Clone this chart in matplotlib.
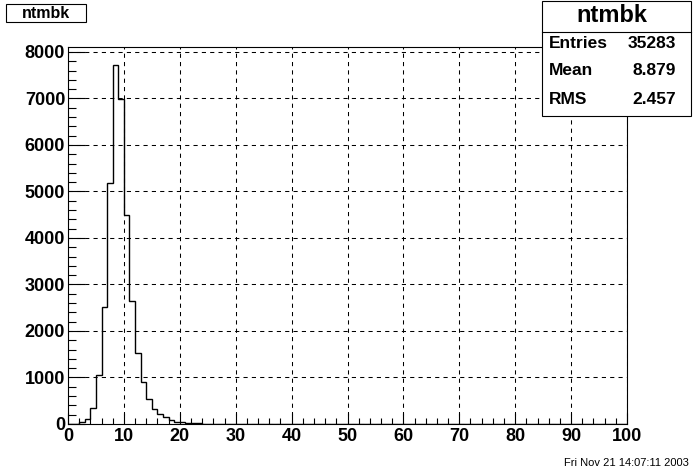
import numpy as np
import matplotlib
matplotlib.use('Agg')
import matplotlib.pyplot as plt
from matplotlib.ticker import MultipleLocator

# Histogram contents, 100 bins of width 1 between 0 and 100
low_bins = [0, 0, 38, 112, 340, 1050, 2520, 5180, 7720, 6990,
            4500, 2640, 1520, 910, 530, 315, 215, 158, 86, 50,
            36, 21, 21, 14, 8, 5]
n_bins = 100
x_min = 0
x_max = 100
counts = np.array(low_bins + [0] * (n_bins - len(low_bins)), dtype=float)
edges = np.linspace(x_min, x_max, n_bins + 1)

hist_name = 'ntmbk'
stat_names = ['Entries', 'Mean', 'RMS']
stat_values = ['35283', '8.879', '2.457']
date_text = 'Fri Nov 21 14:07:11 2003'

plt.rcParams['font.family'] = ['Liberation Sans', 'DejaVu Sans']

W, H = 696, 472
fig = plt.figure(figsize=(W / 100, H / 100), dpi=100)
fig.patch.set_facecolor('white')

# frame in pixels: left 68, right 627, top 47, bottom 424
ax = fig.add_axes([68 / W, (H - 424) / H, (627 - 68) / W, (424 - 47) / H])

ax.stairs(counts, edges, color='black', linewidth=1.0)

ax.set_xlim(x_min, x_max)
ax.set_ylim(0, counts.max() * 1.05)

ax.xaxis.set_major_locator(MultipleLocator(10))
ax.xaxis.set_minor_locator(MultipleLocator(2))
ax.yaxis.set_major_locator(MultipleLocator(1000))
ax.yaxis.set_minor_locator(MultipleLocator(200))

ax.tick_params(axis='x', which='major', direction='in', length=8, width=0.8, pad=3)
ax.tick_params(axis='x', which='minor', direction='in', length=4, width=0.8)
ax.tick_params(axis='y', which='major', direction='in', length=12, width=0.8, pad=2)
ax.tick_params(axis='y', which='minor', direction='in', length=6, width=0.8)
ax.tick_params(top=False, right=False, which='both')

for lab in ax.get_xticklabels() + ax.get_yticklabels():
    lab.set_fontsize(13)
    lab.set_fontweight('bold')

ax.grid(True, which='major', color='black', linestyle=(0, (4, 4)), linewidth=0.75)
ax.set_axisbelow(False)

for sp in ax.spines.values():
    sp.set_linewidth(0.8)
    sp.set_color('black')

# title box
fig.add_artist(plt.Rectangle((6 / W, 1 - 22 / H), 80 / W, 18 / H,
                             transform=fig.transFigure, facecolor='white',
                             edgecolor='black', linewidth=0.8))
fig.text(46 / W, 1 - 13 / H, hist_name, ha='center', va='center', fontsize=11.5,
         fontweight='bold')

# stats box
box = plt.Rectangle((542 / W, 1 - 116 / H), (691 - 542) / W, 115 / H,
                    transform=fig.transFigure, facecolor='white', edgecolor='black',
                    linewidth=0.8, zorder=5)
fig.add_artist(box)
fig.add_artist(plt.Line2D([542 / W, 691 / W], [1 - 32 / H, 1 - 32 / H],
                          transform=fig.transFigure, color='black', linewidth=0.8,
                          zorder=6))
fig.text(612 / W, 1 - 16 / H, hist_name, ha='center', va='center', fontsize=17,
         fontweight='bold', zorder=7)
row_y = [43, 71, 99]
for name, val, yy in zip(stat_names, stat_values, row_y):
    fig.text(549 / W, 1 - yy / H, name, ha='left', va='center', fontsize=12.5,
             fontweight='bold', zorder=7)
    fig.text(676 / W, 1 - yy / H, val, ha='right', va='center', fontsize=12.5,
             fontweight='bold', zorder=7)

fig.text(689 / W, 1 - 463 / H, date_text, ha='right', va='center', fontsize=8)

fig.savefig('out.png', dpi=100, facecolor='white')
